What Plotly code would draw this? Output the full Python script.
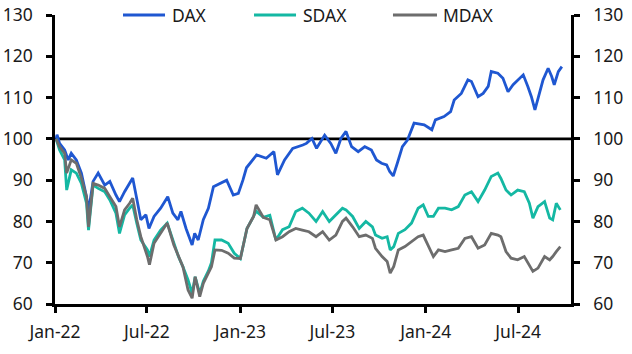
import plotly.graph_objects as go

# ---------------- data ----------------
dax_dates = ["2022-01-03","2022-01-05","2022-01-10","2022-01-20","2022-01-27","2022-02-02","2022-02-12","2022-02-22",
             "2022-03-04","2022-03-08","2022-03-17","2022-03-27","2022-04-09","2022-04-19","2022-05-01","2022-05-08",
             "2022-05-18","2022-05-28","2022-06-03","2022-06-11","2022-06-19","2022-06-29","2022-07-05","2022-07-15",
             "2022-07-28","2022-08-11","2022-08-21","2022-08-31","2022-09-06","2022-09-16","2022-09-28","2022-10-03",
             "2022-10-10","2022-10-20","2022-10-30","2022-11-09","2022-11-22","2022-12-05","2022-12-18","2022-12-28",
             "2023-01-06","2023-01-13","2023-02-02","2023-02-21","2023-03-08","2023-03-15","2023-03-29","2023-04-14",
             "2023-05-04","2023-05-11","2023-05-22","2023-05-31","2023-06-16","2023-06-28","2023-07-08","2023-07-18",
             "2023-07-28","2023-08-08","2023-08-21","2023-09-03","2023-09-16","2023-09-26","2023-10-06","2023-10-16",
             "2023-10-22","2023-10-29","2023-11-06","2023-11-16","2023-11-26","2023-12-09","2023-12-29","2024-01-13",
             "2024-01-20","2024-02-06","2024-02-19","2024-02-26","2024-03-11","2024-03-24","2024-03-31","2024-04-13",
             "2024-04-23","2024-05-03","2024-05-09","2024-05-22","2024-06-01","2024-06-11","2024-06-21","2024-07-04",
             "2024-07-11","2024-07-20","2024-07-27","2024-08-03","2024-08-10","2024-08-19","2024-08-29","2024-09-05",
             "2024-09-10","2024-09-18","2024-09-25"]
dax_values = [100.0,101.0,98.9,97.3,94.9,96.5,94.9,91.7,
              86.0,82.5,89.7,91.7,88.8,89.7,86.4,84.8,
              87.2,89.2,90.5,85.5,80.4,81.6,78.3,81.2,
              83.2,86.0,82.0,80.4,82.4,78.3,74.3,77.1,
              75.5,80.4,83.2,88.4,89.2,90.0,86.4,86.8,
              90.0,93.0,96.1,95.3,96.9,91.3,94.9,97.7,
              98.5,98.9,100.1,97.7,100.9,98.9,96.5,100.1,
              101.8,98.1,96.9,98.1,97.3,94.9,94.1,93.7,
              92.1,91.0,94.1,98.1,99.7,103.8,103.4,102.2,
              104.6,105.4,106.6,109.4,111.0,114.3,113.9,110.2,
              111.0,112.7,116.3,115.9,114.7,111.4,113.1,114.7,
              115.5,112.7,110.2,107.0,110.2,114.3,117.1,115.1,
              113.1,116.3,117.5]

small_dates = ["2022-01-03","2022-01-10","2022-01-20","2022-01-24","2022-02-02","2022-02-12","2022-02-22","2022-03-04",
               "2022-03-08","2022-03-17","2022-03-27","2022-04-09","2022-04-19","2022-05-01","2022-05-08","2022-05-18",
               "2022-05-28","2022-06-03","2022-06-11","2022-06-19","2022-07-02","2022-07-06","2022-07-15","2022-07-28",
               "2022-08-10","2022-08-23","2022-09-01","2022-09-10","2022-09-20","2022-09-28","2022-10-04","2022-10-13",
               "2022-10-20","2022-10-30","2022-11-05","2022-11-12","2022-11-25","2022-12-08","2022-12-20","2023-01-01",
               "2023-01-14","2023-01-27","2023-02-01","2023-02-15","2023-02-28","2023-03-12","2023-03-25","2023-04-07",
               "2023-04-20","2023-05-03","2023-05-16","2023-05-30","2023-06-12","2023-06-25","2023-07-08","2023-07-21",
               "2023-07-28","2023-08-10","2023-08-23","2023-09-05","2023-09-18","2023-09-24","2023-10-07","2023-10-17",
               "2023-10-23","2023-10-30","2023-11-08","2023-11-21","2023-12-04","2023-12-17","2023-12-27","2024-01-06",
               "2024-01-16","2024-01-26","2024-02-08","2024-02-21","2024-03-05","2024-03-18","2024-03-31","2024-04-13",
               "2024-04-26","2024-05-09","2024-05-22","2024-05-28","2024-06-07","2024-06-17","2024-06-30","2024-07-13",
               "2024-07-23","2024-07-30","2024-08-09","2024-08-22","2024-09-01","2024-09-07","2024-09-14","2024-09-22"]
sdax_values = [100.0,97.3,94.9,87.6,92.5,91.7,89.2,84.4,
               77.9,88.8,88.0,87.2,85.2,82.0,77.1,81.6,
               83.2,84.0,79.6,75.5,73.1,71.5,75.5,77.9,
               79.6,74.7,71.5,69.0,65.8,62.6,66.6,62.5,
               65.5,68.0,70.0,75.5,75.5,74.7,72.3,71.0,
               78.3,81.2,82.5,81.0,81.5,75.5,78.0,78.7,
               82.4,83.2,82.0,80.0,82.4,80.0,81.6,83.2,
               82.8,81.2,78.3,80.0,78.7,76.7,75.9,76.3,
               73.1,73.9,77.1,78.0,79.6,83.2,84.0,81.2,
               81.2,83.2,83.2,82.8,83.6,86.4,87.2,84.8,
               87.6,90.9,91.7,90.4,87.6,86.4,87.6,87.2,
               84.4,80.8,83.6,84.8,80.8,80.4,84.4,82.8]
mdax_values = [100.0,98.1,96.5,91.7,94.9,94.1,90.5,86.0,
               78.7,89.2,88.8,88.0,86.0,83.6,78.7,82.8,
               84.4,85.6,80.4,76.3,71.5,69.5,74.7,77.1,
               79.6,74.3,71.5,69.0,63.4,61.4,66.6,61.8,
               65.0,67.5,69.0,73.1,73.0,72.3,71.1,71.0,
               78.3,81.2,84.0,81.0,80.4,75.5,76.3,77.5,
               78.3,77.9,77.5,76.3,77.5,75.5,76.7,80.0,
               80.8,78.7,76.3,76.7,75.9,73.5,71.5,70.3,
               67.5,69.1,73.1,73.9,75.1,76.3,76.7,73.9,
               71.5,73.1,72.7,73.1,73.5,75.9,76.3,73.5,
               74.3,77.1,76.7,76.3,72.7,71.1,70.7,71.5,
               69.5,67.9,68.7,71.5,70.7,71.5,72.7,73.9]

series_names = ["DAX", "SDAX", "MDAX"]
colors = ["#1F57D1", "#14B8A3", "#6D6D6D"]
baseline = 100
y_range = [60, 130]
x_range = ["2022-01-01", "2024-10-13"]

FONT = "Noto Sans"
FS = 17.5

fig = go.Figure()
fig.add_trace(go.Scatter(x=dax_dates, y=dax_values, mode="lines", name=series_names[0],
                         line=dict(color=colors[0], width=2.8), showlegend=False))
fig.add_trace(go.Scatter(x=small_dates, y=sdax_values, mode="lines", name=series_names[1],
                         line=dict(color=colors[1], width=2.8), showlegend=False))
fig.add_trace(go.Scatter(x=small_dates, y=mdax_values, mode="lines", name=series_names[2],
                         line=dict(color=colors[2], width=2.8), showlegend=False))
# invisible trace to activate the right-hand axis
fig.add_trace(go.Scatter(x=dax_dates, y=dax_values, yaxis="y2", mode="lines",
                         line=dict(width=0), hoverinfo="skip", showlegend=False, opacity=0))

axis_common = dict(showline=True, linecolor="black", linewidth=2.5, ticks="outside",
                   ticklen=6, tickwidth=2.5, tickcolor="black", showgrid=False, zeroline=False,
                   automargin=False,
                   tickfont=dict(family=FONT, size=FS, color="#1a1a1a"))

fig.update_layout(
    width=632, height=354,
    margin=dict(l=55, r=61, t=15, b=50),
    plot_bgcolor="white", paper_bgcolor="white",
    xaxis=dict(type="date", range=x_range, dtick="M6", tick0="2022-01-01", tickformat="%b-%y",
               ticklabelstandoff=4, **axis_common),
    yaxis=dict(range=y_range, dtick=10, ticklabelstandoff=10, **axis_common),
    yaxis2=dict(range=y_range, dtick=10, overlaying="y", side="right", ticklabelstandoff=10,
                **axis_common),
    showlegend=False,
)

# reference line at 100
fig.add_shape(type="line", xref="paper", x0=0, x1=1, yref="y", y0=baseline, y1=baseline,
              line=dict(color="black", width=2.8), layer="below")

# manual legend
leg = [(0.1318, 0.2132, 0.2229), (0.3857, 0.4671, 0.4767), (0.655, 0.7403, 0.7481)]
for (a, b, t), name, c in zip(leg, series_names, colors):
    fig.add_shape(type="line", xref="paper", yref="paper", x0=a, x1=b, y0=1.0, y1=1.0,
                  line=dict(color=c, width=2.8))
    fig.add_annotation(xref="paper", yref="paper", x=t, y=1.0, text=name, showarrow=False,
                       xanchor="left", yanchor="middle", font=dict(family=FONT, size=FS, color="#1a1a1a"))

fig.write_html("out.html")
